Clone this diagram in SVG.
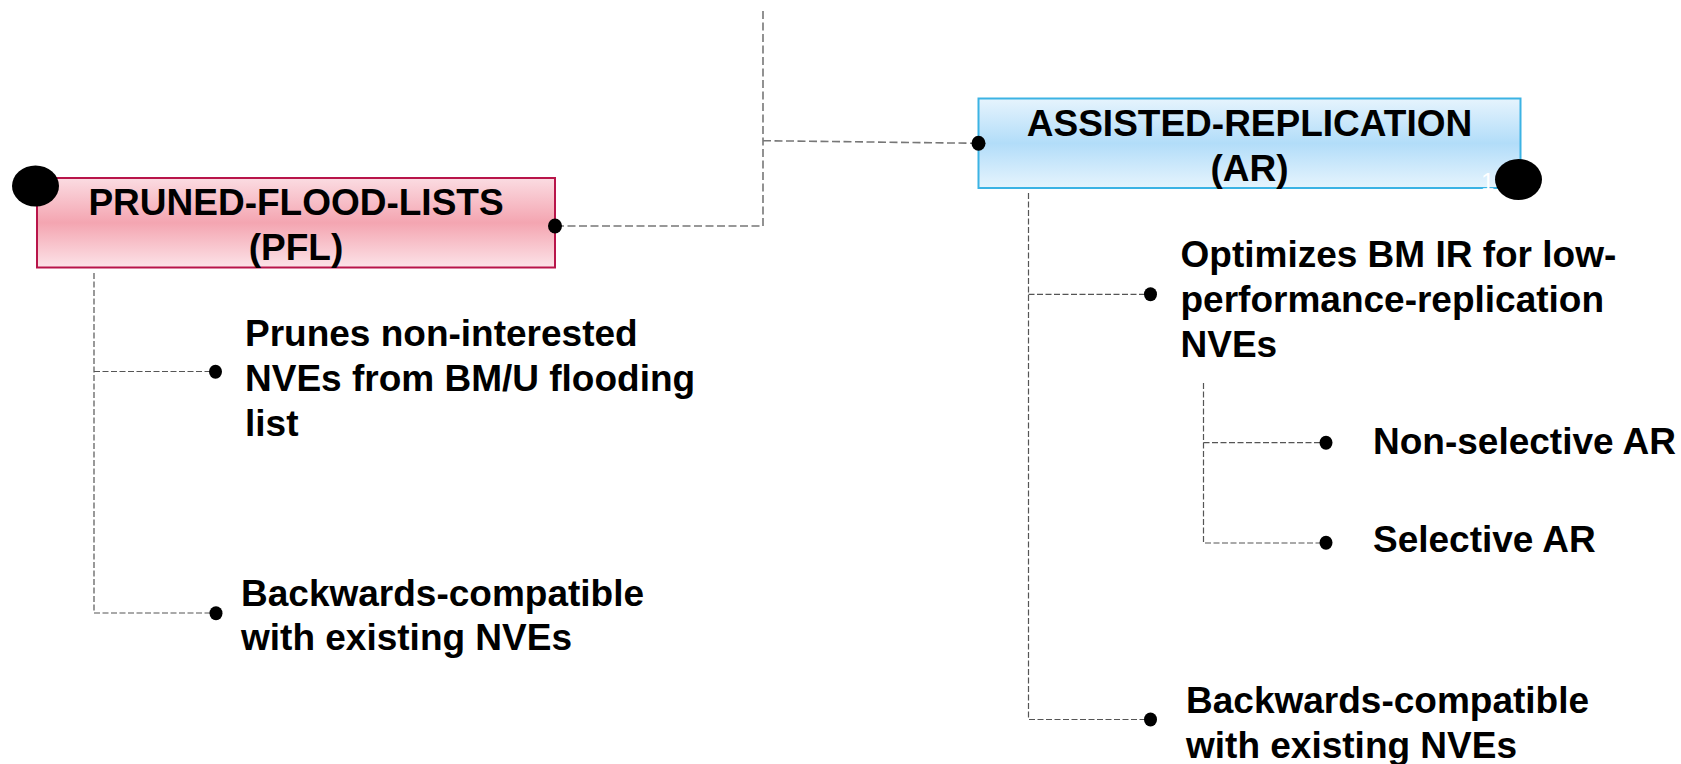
<svg xmlns="http://www.w3.org/2000/svg" width="1681" height="764" viewBox="0 0 1681 764">
  <defs>
    <linearGradient id="gPink" x1="0" y1="0" x2="0" y2="1">
      <stop offset="0" stop-color="#fbdce2"/>
      <stop offset="0.5" stop-color="#f4a5b1"/>
      <stop offset="1" stop-color="#fce3e8"/>
    </linearGradient>
    <linearGradient id="gBlue" x1="0" y1="0" x2="0" y2="1">
      <stop offset="0" stop-color="#e6f4fd"/>
      <stop offset="0.5" stop-color="#b2ddf9"/>
      <stop offset="1" stop-color="#e6f4fd"/>
    </linearGradient>
  </defs>
  <style>
    text { font-family: "Liberation Sans", Arial, Helvetica, sans-serif; font-weight: bold; font-size: 37px; fill: #000; }
    .title { text-anchor: middle; }
    .conn { fill: none; stroke: #555; stroke-width: 1.2; stroke-dasharray: 6 2.5; }
    .main { fill: none; stroke: #777; stroke-width: 1.6; stroke-dasharray: 8 3.5; }
    .dot { fill: #000; }
    .big { fill: #000; }
  </style>
  <rect width="1681" height="764" fill="#fff"/>

  <g id="connectors">
    <path class="main" d="M763 11 V226 H555"/>
    <path class="main" d="M763 140.7 L978 143.3" stroke="#444"/>
    <path class="conn" d="M94 273 V613 H216"/>
    <path class="conn" d="M94 371.5 H215"/>
    <path class="conn" d="M1028.5 193 V719.5 H1150"/>
    <path class="conn" d="M1028.5 294.3 H1150"/>
    <path class="conn" d="M1203.5 383 V543 H1326"/>
    <path class="conn" d="M1203.5 442.7 H1326"/>
    <ellipse class="dot" cx="215.5" cy="371.7" rx="6.5" ry="7"/>
    <ellipse class="dot" cx="216" cy="613.3" rx="6.5" ry="7"/>
    <ellipse class="dot" cx="1150.5" cy="294.3" rx="6.5" ry="7"/>
    <ellipse class="dot" cx="1150.5" cy="719.5" rx="6.5" ry="7"/>
    <ellipse class="dot" cx="1326" cy="442.7" rx="6.5" ry="7"/>
    <ellipse class="dot" cx="1326" cy="542.8" rx="6.5" ry="7"/>
  </g>

  <g id="pfl">
    <rect x="37" y="178" width="518" height="89.5" fill="url(#gPink)" stroke="#b8154a" stroke-width="2"/>
    <text class="title" x="296" y="215">PRUNED-FLOOD-LISTS</text>
    <text class="title" x="296" y="260">(PFL)</text>
    <ellipse class="big" cx="35.5" cy="186" rx="23.5" ry="20.5"/>
    <ellipse class="dot" cx="555" cy="226" rx="7" ry="7.5"/>
  </g>

  <g id="ar">
    <rect x="978.5" y="98.5" width="542" height="89.5" fill="url(#gBlue)" stroke="#3cb3e4" stroke-width="2"/>
    <text class="title" x="1249.5" y="136">ASSISTED-REPLICATION</text>
    <text class="title" x="1249.5" y="181">(AR)</text>
    <text x="1481" y="190" style="fill:#fff;font-size:24px;font-weight:normal">1</text>
    <ellipse class="big" cx="1518.5" cy="179.5" rx="23.5" ry="20.5"/>
    <ellipse class="dot" cx="978.5" cy="143.3" rx="7" ry="7.5"/>
  </g>

  <g id="pfl-prunes">
    <text x="245" y="346">Prunes non-interested</text>
    <text x="245" y="391">NVEs from BM/U flooding</text>
    <text x="245" y="436">list</text>
  </g>

  <g id="pfl-compat">
    <text x="241" y="605.5">Backwards-compatible</text>
    <text x="241" y="650">with existing NVEs</text>
  </g>

  <g id="ar-optimizes">
    <text x="1180.5" y="267">Optimizes BM IR for low-</text>
    <text x="1180.5" y="312">performance-replication</text>
    <text x="1180.5" y="357">NVEs</text>
  </g>

  <g id="ar-nonselective">
    <text x="1373" y="454">Non-selective AR</text>
  </g>

  <g id="ar-selective">
    <text x="1373" y="552">Selective AR</text>
  </g>

  <g id="ar-compat">
    <text x="1186" y="713">Backwards-compatible</text>
    <text x="1186" y="758">with existing NVEs</text>
  </g>
</svg>
